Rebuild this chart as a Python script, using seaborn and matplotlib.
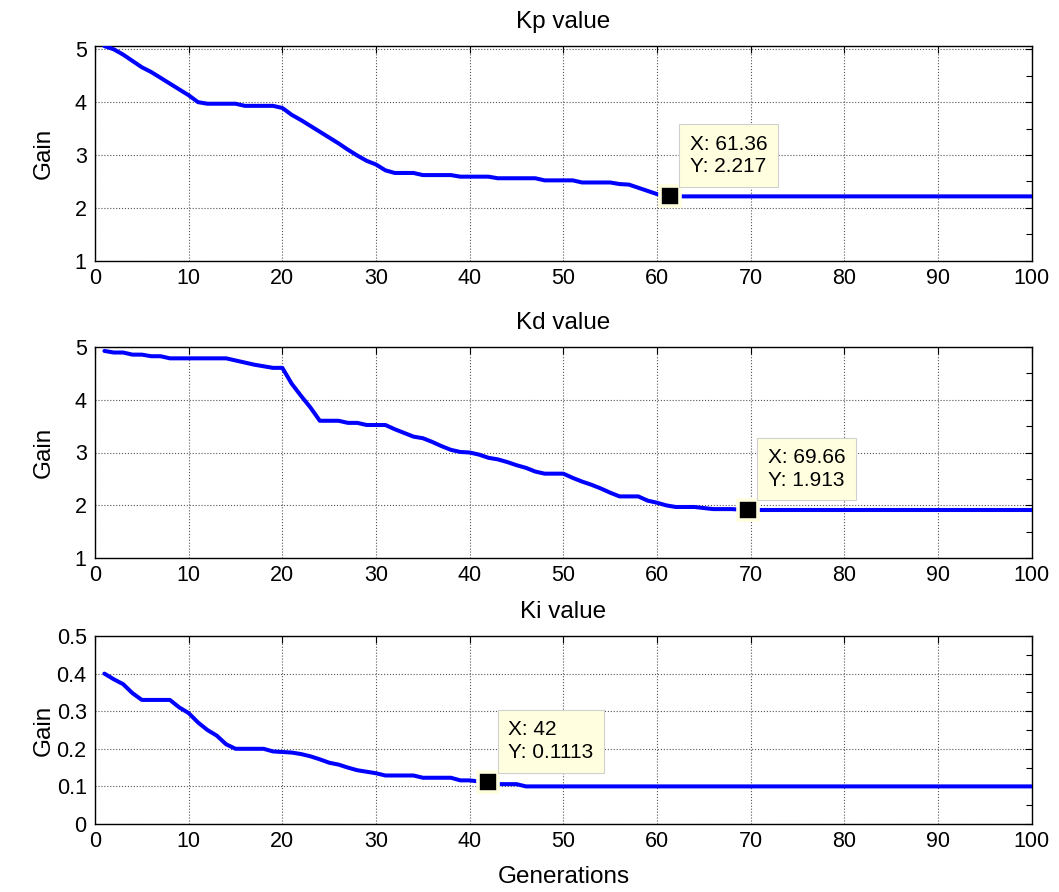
import numpy as np
import pandas as pd
import matplotlib
matplotlib.use("Agg")
import matplotlib.pyplot as plt
from matplotlib.ticker import MultipleLocator, FuncFormatter
import seaborn as sns

# ---------------- data ----------------
kp_gen = [1, 2, 3, 4, 5, 6, 7, 8, 9, 10, 11, 12, 15, 16, 19, 20, 21, 22, 23, 24, 25, 26, 27,
          28, 29, 30, 31, 32, 34, 35, 38, 39, 42, 43, 47, 48, 51, 52, 55, 56, 57, 58, 59, 60,
          61.36, 100]
kp_val = [5.06, 5.00, 4.90, 4.78, 4.66, 4.57, 4.46, 4.35, 4.24, 4.13, 4.00, 3.97, 3.97, 3.93,
          3.93, 3.89, 3.76, 3.66, 3.55, 3.44, 3.33, 3.22, 3.10, 2.99, 2.89, 2.82, 2.71, 2.66,
          2.66, 2.62, 2.62, 2.59, 2.59, 2.56, 2.56, 2.52, 2.52, 2.48, 2.48, 2.45, 2.44, 2.38,
          2.32, 2.26, 2.217, 2.217]

kd_gen = [1, 2, 3, 4, 5, 6, 7, 8, 14, 15, 16, 17, 18, 19, 20, 21, 22, 23, 24, 25, 26, 27, 28,
          29, 30, 31, 32, 33, 34, 35, 36, 37, 38, 39, 40, 41, 42, 43, 44, 45, 46, 47, 48, 50,
          51, 52, 53, 54, 55, 56, 58, 59, 60, 61, 62, 64, 65, 66, 68, 69.66, 100]
kd_val = [4.92, 4.89, 4.89, 4.85, 4.85, 4.82, 4.82, 4.78, 4.78, 4.74, 4.70, 4.66, 4.63, 4.60,
          4.60, 4.30, 4.07, 3.85, 3.60, 3.60, 3.60, 3.56, 3.56, 3.52, 3.52, 3.52, 3.44, 3.37,
          3.30, 3.27, 3.20, 3.12, 3.05, 3.01, 3.00, 2.96, 2.90, 2.87, 2.82, 2.76, 2.71, 2.64,
          2.60, 2.60, 2.52, 2.45, 2.39, 2.32, 2.24, 2.17, 2.17, 2.09, 2.05, 2.00, 1.97, 1.97,
          1.95, 1.93, 1.93, 1.913, 1.913]

ki_gen = [1, 2, 3, 4, 5, 8, 9, 10, 11, 12, 13, 14, 15, 18, 19, 21, 22, 23, 24, 25, 26, 27, 28,
          29, 30, 31, 34, 35, 38, 39, 40, 41, 42, 43, 45, 46, 100]
ki_val = [0.40, 0.385, 0.372, 0.348, 0.33, 0.33, 0.31, 0.295, 0.27, 0.25, 0.235, 0.212, 0.20,
          0.20, 0.193, 0.19, 0.186, 0.18, 0.172, 0.163, 0.158, 0.15, 0.143, 0.139, 0.135,
          0.129, 0.129, 0.123, 0.123, 0.116, 0.116, 0.113, 0.1113, 0.106, 0.106, 0.10, 0.10]

titles = ["Kp value", "Kd value", "Ki value"]
tip_x = [61.36, 69.66, 42]
tip_y = [2.217, 1.913, 0.1113]
tip_text = ["X: 61.36\nY: 2.217", "X: 69.66\nY: 1.913", "X: 42\nY: 0.1113"]
x_ticks = [0, 10, 20, 30, 40, 50, 60, 70, 80, 90, 100]

# ---------------- style ----------------
sns.set_style("white")
plt.rcParams["font.family"] = ["Liberation Sans", "DejaVu Sans"]
plt.rcParams["text.color"] = "black"
plt.rcParams["axes.labelcolor"] = "black"
plt.rcParams["xtick.color"] = "black"
plt.rcParams["ytick.color"] = "black"

W, H = 1059, 892
fig = plt.figure(figsize=(W / 100, H / 100), dpi=100)

left_px, right_px = 95, 1031.7
boxes = [(45.7, 260.7), (346.7, 558.3), (636.0, 824.0)]
ylims = [(1, 5.068), (1, 5), (0, 0.5)]
ymajor = [1, 1, 0.1]
yminor = [0.5, 0.5, 0.05]

series = [(kp_gen, kp_val), (kd_gen, kd_val), (ki_gen, ki_val)]


def fmt(v, pos):
    s = f"{v:.1f}".rstrip("0").rstrip(".")
    return s


for i, ((top, bot), (gx, gv)) in enumerate(zip(boxes, series)):
    ax = fig.add_axes([left_px / W, 1 - bot / H, (right_px - left_px) / W, (bot - top) / H])
    df = pd.DataFrame({"Generations": gx, "Gain": gv})
    sns.lineplot(data=df, x="Generations", y="Gain", ax=ax, color="#0000FF",
                 linewidth=2.9, estimator=None, sort=False, zorder=3)
    ax.set_xlim(0, 100)
    ax.set_ylim(*ylims[i])
    ax.set_xticks(x_ticks)
    ax.yaxis.set_major_locator(MultipleLocator(ymajor[i]))
    ax.yaxis.set_minor_locator(MultipleLocator(yminor[i]))
    ax.yaxis.set_major_formatter(FuncFormatter(fmt))
    ax.grid(True, which="major", color="#555555", linestyle=":", linewidth=0.8)
    ax.set_axisbelow(True)
    for s in ax.spines.values():
        s.set_visible(True)
        s.set_color("black")
        s.set_linewidth(1.0)
    ax.tick_params(axis="both", which="both", direction="in", top=True, right=True,
                   colors="black", labelcolor="black", labelsize=15.5, width=0.8)
    ax.tick_params(axis="both", which="major", length=5)
    ax.tick_params(axis="y", which="minor", length=4)
    ax.tick_params(axis="y", which="major", pad=6)
    ax.tick_params(axis="x", which="major", pad=5)
    ax.set_title(titles[i], fontsize=17.5, pad=13, color="black")
    ax.set_ylabel("Gain", fontsize=17.5, color="black")
    ax.yaxis.set_label_coords(-0.055, 0.5)
    ax.yaxis.label.set_va("center")
    if i < 2:
        ax.set_xlabel("")
    else:
        ax.set_xlabel("Generations", fontsize=17.5, color="black")
        ax.xaxis.set_label_coords(0.5, -(877 - bot) / (bot - top))
        ax.xaxis.label.set_va("center")

    # data tip
    ax.plot([tip_x[i]], [tip_y[i]], marker="s", markersize=14.5, markerfacecolor="black",
            markeredgecolor="#FFFFE0", markeredgewidth=2.6, linestyle="none", zorder=5)
    ax.annotate(tip_text[i], xy=(tip_x[i], tip_y[i]), xytext=(20, 20),
                textcoords="offset pixels", ha="left", va="bottom", fontsize=15,
                linespacing=1.25, zorder=6, color="black",
                bbox=dict(boxstyle="square,pad=0.5", fc="#FFFFE0", ec="#D0D0D0", lw=0.8))

fig.savefig("out.png", dpi=100)
